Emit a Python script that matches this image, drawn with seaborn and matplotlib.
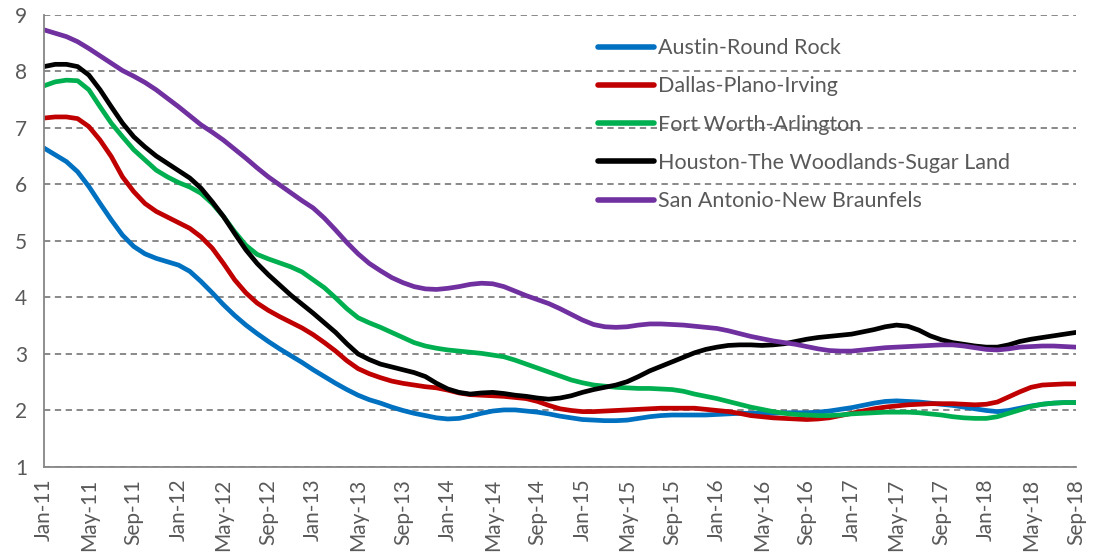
import numpy as np
import pandas as pd
import matplotlib
matplotlib.use('Agg')
import matplotlib.pyplot as plt
import seaborn as sns

# Monthly series, Jan-2011 .. Sep-2018
months = pd.date_range('2011-01-01', '2018-09-01', freq='MS')

austin = [6.64, 6.52, 6.40, 6.22, 5.96, 5.66, 5.37, 5.10, 4.90, 4.77, 4.69, 4.63, 4.57, 4.46, 4.28, 4.08,
          3.87, 3.68, 3.51, 3.36, 3.22, 3.09, 2.97, 2.85, 2.72, 2.60, 2.48, 2.37, 2.27, 2.19, 2.13, 2.06,
          2.00, 1.95, 1.91, 1.87, 1.85, 1.86, 1.90, 1.95, 1.99, 2.01, 2.01, 1.99, 1.97, 1.94, 1.90, 1.87,
          1.84, 1.83, 1.82, 1.82, 1.83, 1.86, 1.89, 1.91, 1.92, 1.92, 1.92, 1.92, 1.93, 1.94, 1.95, 1.95,
          1.95, 1.95, 1.96, 1.96, 1.96, 1.97, 1.99, 2.02, 2.05, 2.09, 2.13, 2.16, 2.17, 2.16, 2.15, 2.13,
          2.11, 2.09, 2.06, 2.03, 2.00, 1.98, 2.00, 2.04, 2.08, 2.11, 2.13, 2.14, 2.14]
dallas = [7.17, 7.19, 7.19, 7.16, 7.02, 6.78, 6.49, 6.13, 5.87, 5.66, 5.52, 5.42, 5.32, 5.22, 5.07, 4.87,
          4.60, 4.31, 4.08, 3.90, 3.77, 3.66, 3.56, 3.46, 3.34, 3.20, 3.05, 2.88, 2.74, 2.65, 2.58, 2.52,
          2.48, 2.45, 2.42, 2.40, 2.36, 2.31, 2.28, 2.27, 2.26, 2.25, 2.23, 2.21, 2.16, 2.09, 2.03, 2.00,
          1.98, 1.98, 1.99, 2.00, 2.01, 2.02, 2.03, 2.04, 2.04, 2.04, 2.04, 2.02, 2.00, 1.98, 1.95, 1.91,
          1.89, 1.87, 1.86, 1.85, 1.84, 1.85, 1.87, 1.91, 1.95, 1.99, 2.03, 2.06, 2.08, 2.10, 2.11, 2.12,
          2.12, 2.12, 2.11, 2.10, 2.11, 2.15, 2.24, 2.33, 2.41, 2.45, 2.46, 2.47, 2.47]
fort_worth = [7.74, 7.81, 7.84, 7.83, 7.67, 7.37, 7.08, 6.84, 6.61, 6.43, 6.25, 6.13, 6.03, 5.95, 5.84, 5.66,
              5.43, 5.16, 4.92, 4.76, 4.68, 4.61, 4.54, 4.45, 4.31, 4.17, 3.99, 3.80, 3.64, 3.55, 3.47, 3.38,
              3.29, 3.20, 3.14, 3.10, 3.07, 3.05, 3.03, 3.01, 2.98, 2.95, 2.89, 2.82, 2.75, 2.68, 2.61, 2.54,
              2.49, 2.45, 2.43, 2.41, 2.40, 2.39, 2.39, 2.38, 2.37, 2.34, 2.29, 2.25, 2.21, 2.16, 2.11, 2.06,
              2.02, 1.98, 1.95, 1.93, 1.92, 1.91, 1.91, 1.92, 1.94, 1.95, 1.96, 1.97, 1.97, 1.97, 1.96, 1.94,
              1.92, 1.89, 1.87, 1.86, 1.86, 1.89, 1.95, 2.01, 2.07, 2.11, 2.13, 2.14, 2.14]
houston = [8.08, 8.12, 8.12, 8.08, 7.93, 7.67, 7.37, 7.08, 6.84, 6.66, 6.50, 6.37, 6.24, 6.11, 5.93, 5.69,
           5.43, 5.13, 4.84, 4.60, 4.40, 4.22, 4.04, 3.88, 3.72, 3.55, 3.38, 3.18, 3.00, 2.90, 2.82, 2.77,
           2.72, 2.67, 2.60, 2.48, 2.38, 2.32, 2.29, 2.31, 2.32, 2.30, 2.27, 2.25, 2.22, 2.20, 2.22, 2.26,
           2.32, 2.37, 2.41, 2.45, 2.51, 2.60, 2.70, 2.78, 2.86, 2.94, 3.02, 3.08, 3.12, 3.15, 3.16, 3.16,
           3.15, 3.16, 3.18, 3.22, 3.26, 3.29, 3.31, 3.33, 3.35, 3.39, 3.43, 3.48, 3.51, 3.49, 3.42, 3.32,
           3.25, 3.20, 3.17, 3.14, 3.12, 3.12, 3.16, 3.22, 3.26, 3.29, 3.32, 3.35, 3.38]
san_antonio = [8.73, 8.67, 8.61, 8.52, 8.40, 8.27, 8.14, 8.01, 7.91, 7.80, 7.67, 7.52, 7.37, 7.21, 7.05, 6.92,
               6.78, 6.62, 6.46, 6.29, 6.13, 5.99, 5.85, 5.71, 5.58, 5.40, 5.19, 4.97, 4.77, 4.60, 4.47, 4.35,
               4.26, 4.19, 4.15, 4.14, 4.16, 4.19, 4.23, 4.25, 4.24, 4.19, 4.11, 4.03, 3.96, 3.89, 3.80, 3.70,
               3.60, 3.52, 3.48, 3.47, 3.48, 3.51, 3.53, 3.53, 3.52, 3.51, 3.49, 3.47, 3.45, 3.41, 3.36, 3.31,
               3.27, 3.23, 3.20, 3.17, 3.13, 3.09, 3.06, 3.05, 3.05, 3.07, 3.09, 3.11, 3.12, 3.13, 3.14, 3.15,
               3.16, 3.16, 3.14, 3.11, 3.08, 3.07, 3.09, 3.12, 3.13, 3.14, 3.14, 3.13, 3.12]

names = ['Austin-Round Rock', 'Dallas-Plano-Irving', 'Fort Worth-Arlington',
         'Houston-The Woodlands-Sugar Land', 'San Antonio-New Braunfels']
colors = ['#0070C0', '#C00000', '#00B050', '#000000', '#7030A0']

df = pd.DataFrame({'month': months, names[0]: austin, names[1]: dallas, names[2]: fort_worth,
                   names[3]: houston, names[4]: san_antonio})
long_df = df.melt(id_vars='month', var_name='metro', value_name='rate')
long_df['idx'] = long_df.groupby('metro').cumcount()

sns.set_style('white')
plt.rcParams['font.family'] = ['Lato', 'DejaVu Sans']

fig = plt.figure(figsize=(10.94, 5.6), dpi=100)
ax = fig.add_axes([0.0402, 0.166, 0.9433, 0.808])

sns.lineplot(data=long_df, x='idx', y='rate', hue='metro', hue_order=names,
             palette=colors, linewidth=3.4, ax=ax)

ax.set_xlim(0, len(months) - 1)
ax.set_ylim(1, 9)
ax.set_yticks(range(1, 10))
ax.set_xticks(range(0, len(months), 4))
ax.set_xticklabels(months[::4].strftime('%b-%y'), rotation=90)
ax.set_xlabel('')
ax.set_ylabel('')

ax.yaxis.grid(True, color='#808080', linestyle=(0, (3.5, 2.5)), linewidth=1.3)
ax.set_axisbelow(True)
for s in ['top', 'right']:
    ax.spines[s].set_visible(False)
for s in ['left', 'bottom']:
    ax.spines[s].set_color('#868686')
    ax.spines[s].set_linewidth(1.3)
ax.tick_params(axis='both', colors='#868686', labelcolor='#595959', labelsize=15,
               length=5, width=1.3, direction='out')
ax.tick_params(axis='y', pad=7)

leg = ax.legend(loc='upper left', bbox_to_anchor=(0.537, 0.948), frameon=False,
                fontsize=15.5, handlelength=2.6, handletextpad=0.2, labelspacing=0.85,
                borderaxespad=0, borderpad=0)
for t in leg.get_texts():
    t.set_color('#595959')
for h in leg.get_lines():
    h.set_linewidth(4)
    h.set_solid_capstyle('round')

fig.savefig('out.png', dpi=100)
